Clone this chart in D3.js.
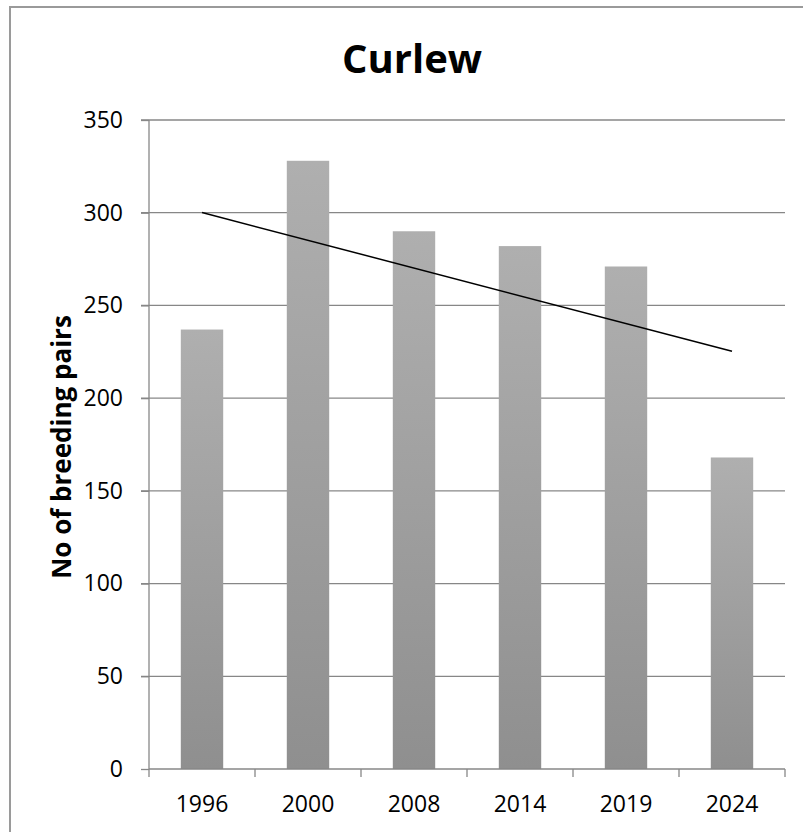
<!DOCTYPE html>
<html><head><meta charset="utf-8">
<script src="https://cdn.jsdelivr.net/npm/d3@7"></script>
<style>html,body{margin:0;padding:0;background:#fff;}svg{display:block;}</style>
</head><body>
<svg id="chart" width="803" height="832"></svg>
<script>
const title = "Curlew";
const yAxisTitle = "No of breeding pairs";
const years = ["1996", "2000", "2008", "2014", "2019", "2024"];
const pairs = [237, 328, 290, 282, 271, 168];
const yTicks = [0, 50, 100, 150, 200, 250, 300, 350];

const svg = d3.select("#chart");
const m = {left: 149, right: 785, top: 120, bottom: 769};
const font = "'Open Sans', sans-serif";

// outer chart border
svg.append("rect").attr("x", 10).attr("y", 7).attr("width", 820).attr("height", 850)
  .attr("fill", "#fff").attr("stroke", "#9a9a9a").attr("stroke-width", 2);

const xb = d3.scaleBand().domain(years).range([m.left, m.right]);
const y = d3.scaleLinear().domain([0, 350]).range([m.bottom, m.top]);

// gridlines
svg.append("g").selectAll("line").data(yTicks.filter(d => d > 0)).join("line")
  .attr("x1", m.left - 8).attr("x2", m.right)
  .attr("y1", d => y(d)).attr("y2", d => y(d))
  .attr("stroke", "#878787").attr("stroke-width", 1.3);

// gradient
const defs = svg.append("defs");
const grad = defs.append("linearGradient").attr("id", "barGrad")
  .attr("x1", 0).attr("y1", 0).attr("x2", 0).attr("y2", 1);
grad.append("stop").attr("offset", "0%").attr("stop-color", "#afafaf");
grad.append("stop").attr("offset", "100%").attr("stop-color", "#8f8f8f");

// bars
svg.append("g").selectAll("rect").data(years).join("rect")
  .attr("x", (d) => xb(d) + xb.bandwidth() / 2 - xb.bandwidth() * 0.2)
  .attr("width", xb.bandwidth() * 0.4)
  .attr("y", (d, i) => y(pairs[i]))
  .attr("height", (d, i) => y(0) - y(pairs[i]))
  .attr("fill", "url(#barGrad)");

// y axis
const yAxis = d3.axisLeft(y).tickValues(yTicks).tickSize(8).tickPadding(18);
const gy = svg.append("g").attr("transform", `translate(${m.left},0)`).call(yAxis);
gy.select(".domain").attr("stroke", "#878787").attr("stroke-width", 1.3).attr("d", `M0,${m.top}V${m.bottom}`);
gy.selectAll(".tick line").attr("stroke", "#878787").attr("stroke-width", 1.3);
gy.selectAll(".tick text").attr("font-family", font).attr("font-size", 23).attr("fill", "#000");

// x axis
const xAxis = d3.axisBottom(xb).tickSize(0).tickPadding(27);
const gx = svg.append("g").attr("transform", `translate(0,${m.bottom})`).call(xAxis);
gx.select(".domain").attr("stroke", "#878787").attr("stroke-width", 1.3).attr("d", `M${m.left},0H${m.right}`);
gx.selectAll(".tick text").attr("font-family", font).attr("font-size", 23).attr("fill", "#000");
// boundary ticks
const bounds = years.map(d => xb(d)).concat([m.right]);
gx.append("g").selectAll("line").data(bounds).join("line")
  .attr("x1", d => d).attr("x2", d => d).attr("y1", 0).attr("y2", 8)
  .attr("stroke", "#878787").attr("stroke-width", 1.3);

// linear trendline (least squares over category index)
const n = pairs.length;
const idx = d3.range(n);
const mx = d3.mean(idx), my = d3.mean(pairs);
const slope = d3.sum(idx, i => (i - mx) * (pairs[i] - my)) / d3.sum(idx, i => (i - mx) ** 2);
const icpt = my - slope * mx;
const cx = d => xb(d) + xb.bandwidth() / 2;
svg.append("line")
  .attr("x1", cx(years[0])).attr("y1", y(icpt))
  .attr("x2", cx(years[n - 1])).attr("y2", y(icpt + slope * (n - 1)))
  .attr("stroke", "#000").attr("stroke-width", 1.5);

// title
svg.append("text").attr("x", 412).attr("y", 73).attr("text-anchor", "middle")
  .attr("font-family", font).attr("font-weight", "bold").attr("font-size", 40)
  .text(title);

// y axis title
svg.append("text").attr("transform", `translate(71,447) rotate(-90)`)
  .attr("text-anchor", "middle").attr("font-family", font).attr("font-weight", "bold")
  .attr("font-size", 26).text(yAxisTitle);
</script>
</body></html>
